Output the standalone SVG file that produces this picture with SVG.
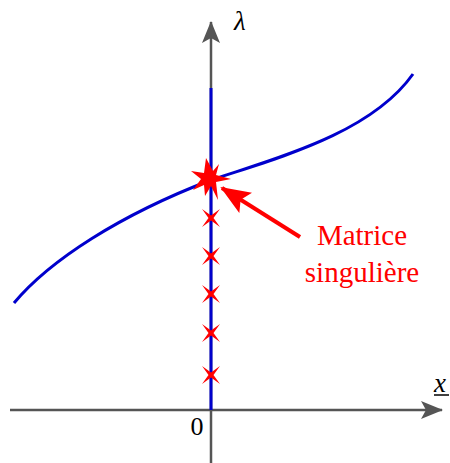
<svg xmlns="http://www.w3.org/2000/svg" width="450" height="463" viewBox="0 0 450 463">
<style>
.axis{stroke:#555;stroke-width:2.5;fill:none}
.blue{stroke:#0000cc;stroke-width:3;fill:none}
.star{fill:#ff0000}
.lbl{font-family:"Liberation Serif","DejaVu Serif",serif}
</style>
<defs>
<marker id="ah" viewBox="0 0 22 18" refX="21" refY="9" markerWidth="22" markerHeight="18" markerUnits="userSpaceOnUse" orient="auto"><path d="M0,0 L22,9 L0,18 L5,9 Z" fill="#555"/></marker>
<marker id="rh" viewBox="0 0 30 24" refX="28" refY="12" markerWidth="30" markerHeight="24" markerUnits="userSpaceOnUse" orient="auto"><path d="M0,0 L30,12 L0,24 L6,12 Z" fill="#ff0000"/></marker>
<polygon id="x4" points="-9,-9 0,-2.5 9,-9 2.5,0 9,9 0,2.5 -9,9 -2.5,0"/>
</defs>
<g id="axes">
<line class="axis" x1="10" y1="410" x2="442" y2="410" marker-end="url(#ah)"/>
<line class="axis" x1="211" y1="463" x2="211" y2="22" marker-end="url(#ah)"/>
</g>
<g id="connectors">
<line class="blue" x1="211" y1="88" x2="211" y2="410"/>
<path class="blue" d="M14,303 C50,260 120,215 211,180 C270,160 370,135 413,74"/>
<line x1="300" y1="237" x2="222" y2="188" stroke="#ff0000" stroke-width="4" marker-end="url(#rh)"/>
</g>
<g id="singular">
<polygon class="star" points="206,158 213,171 219,164 216,175 231,179 216,182 218,200 211,186 205,196 204,185 193,190 201,179 191,171 204,173"/>
</g>
<g id="eigen" class="star">
<use href="#x4" x="211" y="218"/>
<use href="#x4" x="211" y="256"/>
<use href="#x4" x="211" y="294"/>
<use href="#x4" x="211" y="333"/>
<use href="#x4" x="211" y="375"/>
</g>
<g id="labels">
<text class="lbl" x="234" y="30" font-size="27" font-style="italic">λ</text>
<text class="lbl" x="434" y="392" font-size="27" font-style="italic">x</text>
<line x1="434" y1="395" x2="449" y2="395" stroke="#000" stroke-width="1.5"/>
<text class="lbl" x="197" y="435" font-size="26" text-anchor="middle">0</text>
<text class="lbl" x="362" y="245" font-size="29" fill="#ff0000" text-anchor="middle">Matrice</text>
<text class="lbl" x="362" y="282" font-size="29" fill="#ff0000" text-anchor="middle">singulière</text>
</g>
</svg>
